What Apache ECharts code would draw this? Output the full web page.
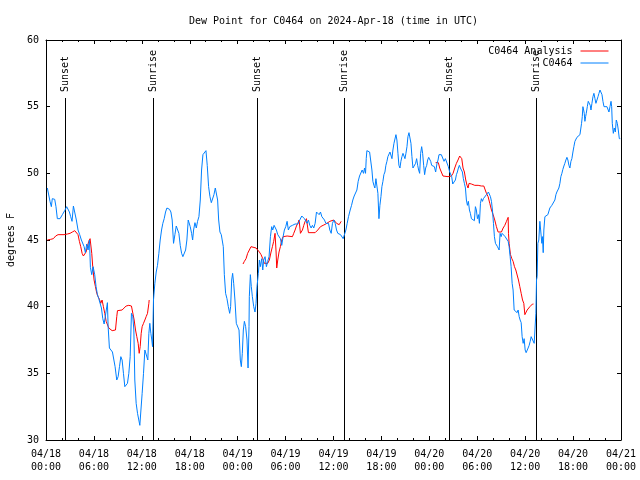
<!DOCTYPE html>
<html><head><meta charset="utf-8">
<script src="https://cdn.jsdelivr.net/npm/echarts@6/dist/echarts.min.js"></script>
<style>html,body{margin:0;padding:0;background:#fff}#c{width:640px;height:480px}</style>
</head><body><div id="c"></div>
<script>
// Hours since 2024-04-18 00:00 UTC
const blueHours = [
0.17,0.38,0.50,0.67,0.79,1.09,1.25,1.42,1.76,2.05,2.34,2.59,2.76,2.93,3.09,3.26,3.43,3.64,3.80,4.01,4.22,4.43,4.60,4.77,4.93,5.10,5.27,5.44,5.56,5.73,5.90,6.10,6.27,6.44,6.61,6.77,6.94,7.11,7.28,7.53,7.69,7.78,7.94,8.11,8.32,8.53,8.65,8.86,9.03,9.20,9.37,9.53,9.70,9.87,10.03,10.20,10.37,10.54,10.70,10.87,11.00,11.12,11.29,11.46,11.62,11.75,11.87,12.04,12.21,12.38,12.50,12.63,12.75,12.88,
13.00,13.13,13.25,13.34,13.46,13.63,13.80,13.96,14.13,14.30,14.47,14.63,14.80,14.97,15.14,15.30,15.47,15.64,15.80,15.97,16.14,16.31,16.47,16.64,16.81,16.98,17.14,17.31,17.48,17.64,17.81,17.94,18.06,18.23,18.36,18.48,18.65,18.82,18.98,19.15,19.32,19.48,19.65,19.82,20.03,20.19,20.36,20.53,20.70,20.86,21.03,21.20,21.37,21.49,21.62,21.78,21.95,22.08,22.20,22.33,22.49,22.66,22.83,23.00,23.12,23.25,23.37,23.50,23.66,23.83,24.00,24.17,24.33,24.46,24.58,24.71,24.84,25.00,25.17,25.30,25.42,
25.46,25.59,25.71,25.84,26.01,26.17,26.30,26.42,26.59,26.72,26.84,27.01,27.14,27.26,27.43,27.60,27.76,27.93,28.10,28.26,28.39,28.56,28.68,28.85,29.02,29.18,29.35,29.52,29.69,29.85,30.02,30.19,30.35,30.52,30.69,30.86,31.02,31.19,31.36,31.53,31.69,31.86,32.03,32.19,32.36,32.53,32.70,32.86,33.03,33.20,33.36,33.53,33.70,33.87,34.03,34.20,34.37,34.54,34.70,34.87,35.04,35.21,35.37,35.54,35.71,35.87,36.04,36.21,36.38,36.54,36.71,36.88,37.05,37.21,37.38,37.55,37.71,37.88,
37.92,38.09,38.26,38.42,38.59,38.76,38.93,39.09,39.26,39.43,39.59,39.76,39.89,40.01,40.10,40.18,40.35,40.52,40.68,40.81,40.93,41.06,41.18,41.31,41.43,41.56,41.69,41.81,41.94,42.06,42.19,42.31,42.44,42.56,42.69,42.81,42.94,43.07,43.19,43.32,43.44,43.57,43.69,43.82,43.94,44.07,44.19,44.32,44.44,44.57,44.70,44.82,44.95,45.07,45.20,45.32,45.45,45.57,45.70,45.82,45.95,46.12,46.28,46.41,46.54,46.66,46.79,46.91,47.04,47.16,47.29,47.41,47.54,47.67,47.79,47.92,48.04,48.17,48.29,48.46,48.63,48.79,48.96,49.09,49.21,
49.30,49.50,49.71,49.84,50.01,50.13,50.26,50.38,50.55,50.67,50.80,50.93,51.09,51.26,51.39,51.51,51.64,51.76,51.89,52.01,52.14,52.26,52.39,52.52,52.64,52.77,52.89,53.02,53.14,53.27,53.39,53.64,53.77,53.89,54.02,54.15,54.27,54.40,54.52,54.65,54.77,54.90,55.02,55.15,55.27,55.40,55.52,55.65,55.78,55.90,56.03,56.15,56.28,56.40,56.53,56.65,56.74,56.86,56.99,57.11,57.24,57.36,57.49,57.62,57.74,57.87,57.99,58.12,58.24,58.37,58.49,58.62,58.74,58.87,58.99,59.12,59.25,59.37,59.50,59.62,59.75,59.87,60.00,60.12,60.25,60.37,60.50,60.63,60.75,60.88,61.00,61.13,61.25,
61.34,61.42,61.50,61.59,61.71,61.84,61.96,62.09,62.17,62.26,62.34,62.47,62.59,62.72,62.84,62.97,63.09,63.22,63.34,63.47,63.59,63.72,63.85,63.97,64.10,64.22,64.35,64.47,64.60,64.72,64.85,64.97,65.10,65.23,65.35,65.48,65.60,65.73,65.85,65.98,66.10,66.23,66.35,66.48,66.61,66.73,66.86,66.98,67.06,67.15,67.23,67.32,67.40,67.48,67.57,67.65,67.78,67.90,68.03,68.15,68.24,68.36,68.49,68.61,68.74,68.86,68.99,69.12,69.24,69.37,69.49,69.62,69.74,69.87,69.99,70.12,70.24,70.37,70.49,70.62,70.75,70.83,70.91,71.04,71.16,71.29,71.41,71.54,71.66,71.79,71.91
];
const blueValues = [
48.9,48.95,47.9,47.5,48.1,48.05,47.5,46.6,46.6,46.9,47.2,47.5,47.6,47.1,46.75,46.4,47.55,47.6,46.5,45.75,45.4,45.0,44.9,44.5,44.05,44.7,44.25,45.0,42.95,42.4,43.0,42.4,41.5,40.9,40.6,40.75,39.9,39.1,38.7,38.75,40.3,38.5,36.9,36.75,36.6,36.75,35.5,34.5,34.75,35.5,36.25,36.0,35.0,34.0,33.9,34.25,35.0,36.25,39.5,39.25,38.25,34.5,32.75,32.0,31.5,31.1,32.1,33.5,35.0,36.75,36.8,36.75,36.0,38.0,
38.75,38.0,37.5,37.0,40.5,41.75,42.6,43.1,44.0,45.0,45.75,46.25,46.6,47.1,47.4,47.5,47.3,47.1,46.5,44.75,45.4,46.05,46.05,45.5,44.6,44.0,43.75,43.9,44.25,45.0,46.5,46.4,46.0,45.5,45.0,45.75,46.3,45.9,46.4,46.75,48.0,50.25,51.4,51.45,51.7,50.6,49.0,48.25,47.8,47.8,48.4,48.9,49.0,48.0,46.5,45.6,45.4,45.55,44.5,42.4,41.0,40.6,40.0,39.5,40.0,42.0,42.5,41.75,40.5,38.75,38.9,38.25,36.0,35.5,36.5,38.25,38.9,38.5,37.5,35.4,38.5,
40.75,42.4,41.5,40.75,40.0,39.6,40.25,41.5,42.5,43.5,43.0,43.6,42.75,43.5,43.75,43.0,43.4,43.75,45.25,46.0,45.75,46.1,46.0,45.75,45.4,45.5,45.1,44.6,45.25,45.75,46.0,46.4,45.75,46.0,45.9,46.1,46.2,46.2,46.1,46.2,46.4,46.5,46.8,46.9,46.6,46.5,46.25,46.5,46.1,45.9,46.1,45.9,46.25,47.1,47.25,46.9,47.1,46.75,46.6,46.5,46.25,46.4,46.25,45.75,45.5,46.25,46.5,46.25,45.75,45.5,45.4,45.4,45.25,45.1,45.1,45.75,46.25,46.75,
46.9,47.25,47.6,48.0,48.3,48.4,48.75,49.4,49.8,49.9,50.25,50.0,50.4,50.0,51.1,51.7,51.6,51.6,51.6,50.25,49.4,49.1,48.9,49.6,49.75,48.5,46.6,47.6,48.25,49.0,49.4,49.9,50.1,50.6,50.9,51.25,51.4,51.6,51.5,51.1,51.75,52.25,52.4,52.9,52.5,51.5,50.6,50.4,50.9,51.25,51.5,51.4,51.1,51.5,52.0,52.75,53.05,52.9,52.25,51.25,50.4,50.3,50.75,51.1,50.6,50.25,50.0,51.5,52.0,51.5,50.6,49.9,50.4,50.6,51.0,51.2,51.05,50.9,50.6,50.5,50.5,50.1,50.75,51.0,51.4,
51.4,51.4,51.4,50.9,51.1,51.0,51.25,50.5,50.1,50.25,49.75,49.2,49.2,49.5,49.9,50.1,50.4,50.6,50.4,50.55,50.1,49.6,49.25,48.9,48.0,47.6,47.9,47.25,47.0,46.6,46.45,46.45,47.5,47.25,46.6,46.9,46.25,47.75,48.1,47.9,48.1,48.25,48.05,48.4,48.5,48.6,48.5,48.25,47.9,47.25,46.25,45.25,44.75,44.6,44.5,44.4,44.25,45.5,45.25,45.5,45.6,45.4,45.25,45.2,45.4,44.9,44.5,43.75,43.0,41.75,41.25,39.75,39.6,39.9,39.55,39.75,39.25,39.0,38.8,37.75,37.25,37.6,36.75,36.55,36.4,36.9,37.1,37.4,37.75,37.8,37.6,37.25,37.25,
39.5,42.0,42.25,44.75,45.0,46.4,46.5,44.75,45.25,44.05,45.75,46.75,46.8,46.8,46.9,47.05,47.4,47.55,47.6,47.7,47.7,48.0,48.4,48.6,48.6,48.9,49.25,49.75,50.0,50.3,50.55,50.75,51.0,51.2,51.0,50.6,50.4,50.9,51.1,51.6,52.0,52.4,52.55,52.7,52.75,52.75,52.9,53.0,53.75,54.25,55.0,54.75,54.5,53.9,54.25,54.5,55.0,55.4,55.5,55.1,54.75,55.25,55.75,56.0,55.6,55.25,55.5,55.75,56.0,56.25,56.4,55.9,55.4,55.0,55.0,55.05,55.0,54.95,54.6,55.0,55.4,55.0,53.75,53.0,53.4,53.1,54.0,53.75,53.25,52.6,52.6
];
// Analysis series; null marks a gap in the line
const redHours = [
0.17,0.59,0.92,1.21,1.51,2.26,2.68,3.01,3.30,3.60,3.85,4.01,4.18,4.35,4.52,4.68,4.85,5.02,5.18,5.35,5.52,5.64,5.73,5.85,6.02,6.19,6.36,6.52,6.69,6.86,7.02,7.19,7.36,7.53,7.69,7.86,8.03,8.28,8.70,8.86,8.95,9.53,9.78,10.03,10.37,10.70,10.87,11.04,11.21,11.37,11.54,11.67,11.79,11.92,12.04,12.21,12.38,12.54,12.71,12.88,12.92,
18.00,
24.67,24.84,25.05,25.25,25.46,25.67,25.88,26.30,26.51,26.72,26.93,27.14,27.34,27.55,27.76,27.97,28.18,28.35,28.51,28.68,28.81,28.89,29.02,29.18,29.35,29.52,29.69,29.85,30.19,30.86,31.02,31.19,31.36,31.53,31.69,31.78,31.86,31.94,32.11,32.28,32.45,32.61,32.70,32.86,33.70,33.87,34.03,34.37,34.70,35.04,35.29,35.54,35.79,36.04,36.21,36.38,36.54,36.71,36.96,
43.00,
48.79,49.13,49.30,49.50,49.71,49.92,50.34,50.76,50.97,51.18,51.39,51.59,51.80,51.93,52.06,52.22,52.39,52.56,52.72,52.85,52.97,53.27,53.69,54.11,54.52,54.82,54.94,55.15,55.36,55.57,55.78,55.99,56.19,56.40,56.61,56.82,57.03,57.24,57.45,57.66,57.87,57.91,57.99,58.16,58.33,58.49,58.66,58.83,58.99,59.16,59.33,59.50,59.67,59.83,59.96,60.08,60.25,60.42,60.59,60.75,60.92,61.04
];
const redValues = [
45.0,45.05,45.1,45.3,45.4,45.4,45.45,45.5,45.6,45.7,45.6,45.4,44.9,44.5,44.0,43.8,43.8,44.1,44.5,44.9,45.1,45.2,44.0,43.0,42.0,41.5,41.0,40.75,40.55,40.25,40.5,40.0,39.5,38.9,38.75,38.4,38.25,38.2,38.25,39.25,39.7,39.75,39.9,40.05,40.1,40.05,39.9,39.0,38.25,37.75,37.25,36.5,37.0,38.0,38.5,38.75,39.0,39.25,39.5,40.25,40.5,
null,
43.2,43.4,43.6,44.0,44.25,44.5,44.45,44.4,44.3,44.1,43.9,43.6,43.25,43.2,43.25,43.5,44.1,44.5,44.9,45.5,44.1,42.9,43.5,44.1,44.5,45.0,45.25,45.4,45.3,45.25,45.5,45.75,46.05,46.25,46.5,46.4,45.5,45.4,45.75,46.1,46.4,46.6,46.5,45.55,45.55,45.6,45.75,46.0,46.1,46.2,46.3,46.4,46.45,46.5,46.45,46.25,46.2,46.15,46.4,
null,
50.8,50.8,50.4,50.1,49.8,49.75,49.75,49.8,50.0,50.4,50.75,51.0,51.3,51.4,51.1,50.4,50.1,49.5,49.1,48.9,49.25,49.2,49.1,49.1,49.05,49.05,48.9,48.5,48.25,47.75,47.25,46.9,46.5,46.0,45.6,45.5,45.6,45.9,46.1,46.4,46.7,45.5,44.75,43.9,43.6,43.4,43.0,42.75,42.6,42.0,41.5,41.0,40.5,40.25,39.4,39.5,39.75,39.9,40.0,40.1,40.2,40.2
];
const sunTimes = [2.32, 13.34, 26.38, 37.30, 50.47, 61.36];
const sunLabels = ['Sunset','Sunrise','Sunset','Sunrise','Sunset','Sunrise'];
const sunLineTop = 55.65;
const xTickLabels = ['04/18\n00:00','04/18\n06:00','04/18\n12:00','04/18\n18:00','04/19\n00:00','04/19\n06:00','04/19\n12:00','04/19\n18:00','04/20\n00:00','04/20\n06:00','04/20\n12:00','04/20\n18:00','04/21\n00:00'];
const titleText = 'Dew Point for C0464 on 2024-Apr-18 (time in UTC)';

const FONT = '"DejaVu Sans Mono", "Liberation Mono", monospace';
function zip(h, v) { const n = Math.min(h.length, v.length); const out = []; for (let i = 0; i < n; i++) out.push([h[i], v[i]]); return out; }

const chart = echarts.init(document.getElementById('c'), null, {renderer: 'canvas'});
const xBase = {
  type: 'value', min: 0, max: 72, interval: 6, gridIndex: 0,
  axisLine: {show: true, onZero: false, lineStyle: {color: '#000', width: 1}},
  axisTick: {show: true, inside: true, length: 4, lineStyle: {color: '#000'}},
  minorTick: {show: true, splitNumber: 3, length: 2, lineStyle: {color: '#000'}},
  splitLine: {show: false}, minorSplitLine: {show: false}
};
const yBase = {
  type: 'value', min: 30, max: 60, interval: 5, gridIndex: 0,
  axisLine: {show: true, onZero: false, lineStyle: {color: '#000', width: 1}},
  axisTick: {show: true, inside: true, length: 4, lineStyle: {color: '#000'}},
  splitLine: {show: false}
};
const option = {
  animation: false,
  backgroundColor: '#fff',
  title: {text: titleText, left: 189, top: 16, padding: 0,
    textStyle: {fontFamily: FONT, fontSize: 10, fontWeight: 'normal', color: '#000'}},
  grid: {left: 46, right: 19, top: 40, bottom: 40, containLabel: false, outerBoundsMode: 'none'},
  legend: {
    orient: 'vertical', right: 31, top: 46, padding: 0, itemGap: 2,
    itemWidth: 28, itemHeight: 10, align: 'right',
    data: ['C0464 Analysis', 'C0464'],
    itemStyle: {opacity: 0, borderWidth: 0},
    lineStyle: {width: 1},
    textStyle: {fontFamily: FONT, fontSize: 10, color: '#000', padding: [0, 3, 0, 0]}
  },
  xAxis: [
    Object.assign({}, xBase, {position: 'bottom',
      axisLabel: {show: true, margin: 8, fontFamily: FONT, fontSize: 10, lineHeight: 13, color: '#000',
        showMinLabel: true, showMaxLabel: true, hideOverlap: false,
        formatter: v => xTickLabels[Math.round(v / 6)] || ''}}),
    Object.assign({}, xBase, {position: 'top', axisLabel: {show: false}})
  ],
  yAxis: [
    Object.assign({}, yBase, {position: 'left', name: 'degrees F', nameLocation: 'middle', nameGap: 29,
      nameTextStyle: {fontFamily: FONT, fontSize: 10, color: '#000'},
      axisLabel: {show: true, margin: 7, fontFamily: FONT, fontSize: 10, color: '#000'}}),
    Object.assign({}, yBase, {position: 'right', axisLabel: {show: false}})
  ],
  series: [
    {
      type: 'custom', name: 'sun', xAxisIndex: 0, yAxisIndex: 0, silent: true, clip: false,
      data: sunTimes.map(t => [t, sunLineTop]),
      renderItem: (params, api) => {
        const t = api.value(0);
        const p0 = api.coord([t, 30]);
        const p1 = api.coord([t, api.value(1)]);
        const x = Math.round(p0[0]) + 0.5;
        return {type: 'group', children: [
          {type: 'line', shape: {x1: x, y1: p0[1], x2: x, y2: p1[1]}, style: {stroke: '#000', lineWidth: 1}},
          {type: 'text', x: x, y: p1[1] - 6, rotation: Math.PI / 2,
            style: {text: sunLabels[params.dataIndex], font: '10px ' + FONT, fill: '#000', align: 'left', verticalAlign: 'middle'}}
        ]};
      }
    },
    {
      type: 'line', name: 'C0464 Analysis', xAxisIndex: 0, yAxisIndex: 0,
      data: zip(redHours, redValues), showSymbol: false, symbol: 'none', connectNulls: false,
      lineStyle: {color: '#ff0000', width: 1}, itemStyle: {color: '#ff0000'}
    },
    {
      type: 'line', name: 'C0464', xAxisIndex: 0, yAxisIndex: 0,
      data: zip(blueHours, blueValues), showSymbol: false, symbol: 'none',
      lineStyle: {color: '#0080ff', width: 1}, itemStyle: {color: '#0080ff'}
    }
  ]
};
chart.setOption(option);
</script>
</body></html>
